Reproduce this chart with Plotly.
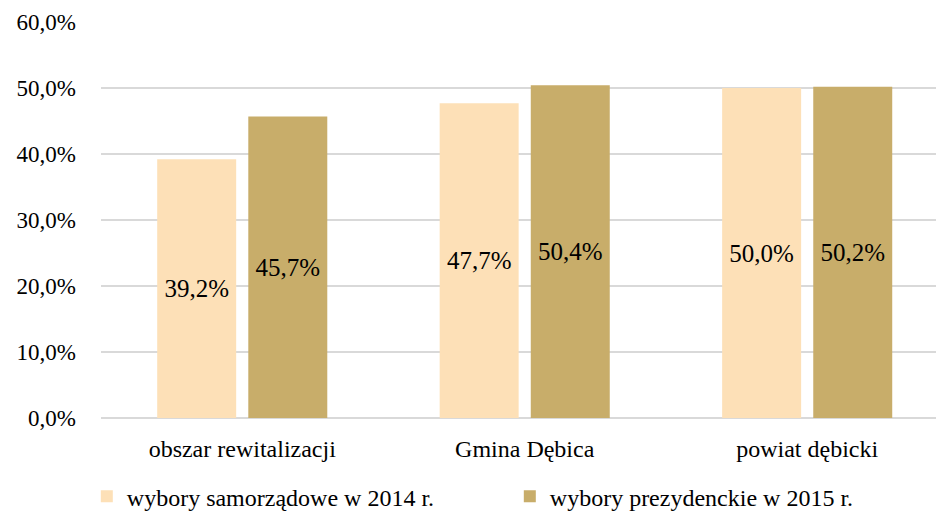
import plotly.graph_objects as go

categories = ["obszar rewitalizacji", "Gmina Dębica", "powiat dębicki"]
series_names = ["wybory samorządowe w 2014 r.", "wybory prezydenckie w 2015 r."]
values_2014 = [39.2, 47.7, 50.0]
values_2015 = [45.7, 50.4, 50.2]
colors = ["#FDE0B7", "#C8AD6A"]

ff = "Liberation Serif"

fig = go.Figure()
for name, vals, col in zip(series_names, [values_2014, values_2015], colors):
    fig.add_trace(go.Bar(
        x=categories, y=vals, name=name,
        marker=dict(color=col, line=dict(width=0)),
        texttemplate="%{y:.1f}%", textposition="inside",
        insidetextanchor="middle",
        textfont=dict(family=ff, size=25, color="#000000"),
    ))

fig.update_layout(
    width=936, height=518,
    margin=dict(l=101, r=0, t=22, b=100, autoexpand=False),
    paper_bgcolor="white", plot_bgcolor="white",
    separators=",.",
    barmode="group", bargap=0.355, bargroupgap=0.133,
    font=dict(family=ff, size=22, color="#000000"),
    showlegend=True,
    legend=dict(orientation="h", x=-0.017, xanchor="left", y=-0.142, yanchor="top",
                font=dict(family=ff, size=24, color="#000000"),
                itemwidth=30, entrywidth=378, traceorder="normal"),
)
fig.update_xaxes(range=[-0.5, 2.456], showgrid=False, showline=False, ticks="",
                 automargin=False,
                 tickfont=dict(family=ff, size=24, color="#000000"), ticklabelstandoff=14)
fig.update_yaxes(range=[0, 60], dtick=10, tickformat=".1f", ticksuffix="%",
                 showgrid=True, gridcolor="#D9D9D9", gridwidth=1.5,
                 zeroline=True, zerolinecolor="#D9D9D9", zerolinewidth=1.5,
                 showline=False, ticks="", automargin=False,
                 tickfont=dict(family=ff, size=23, color="#000000"),
                 ticklabelstandoff=24)

fig.write_html("out.html", config={"displayModeBar": False},
               post_script="document.body.style.margin='0px';")
